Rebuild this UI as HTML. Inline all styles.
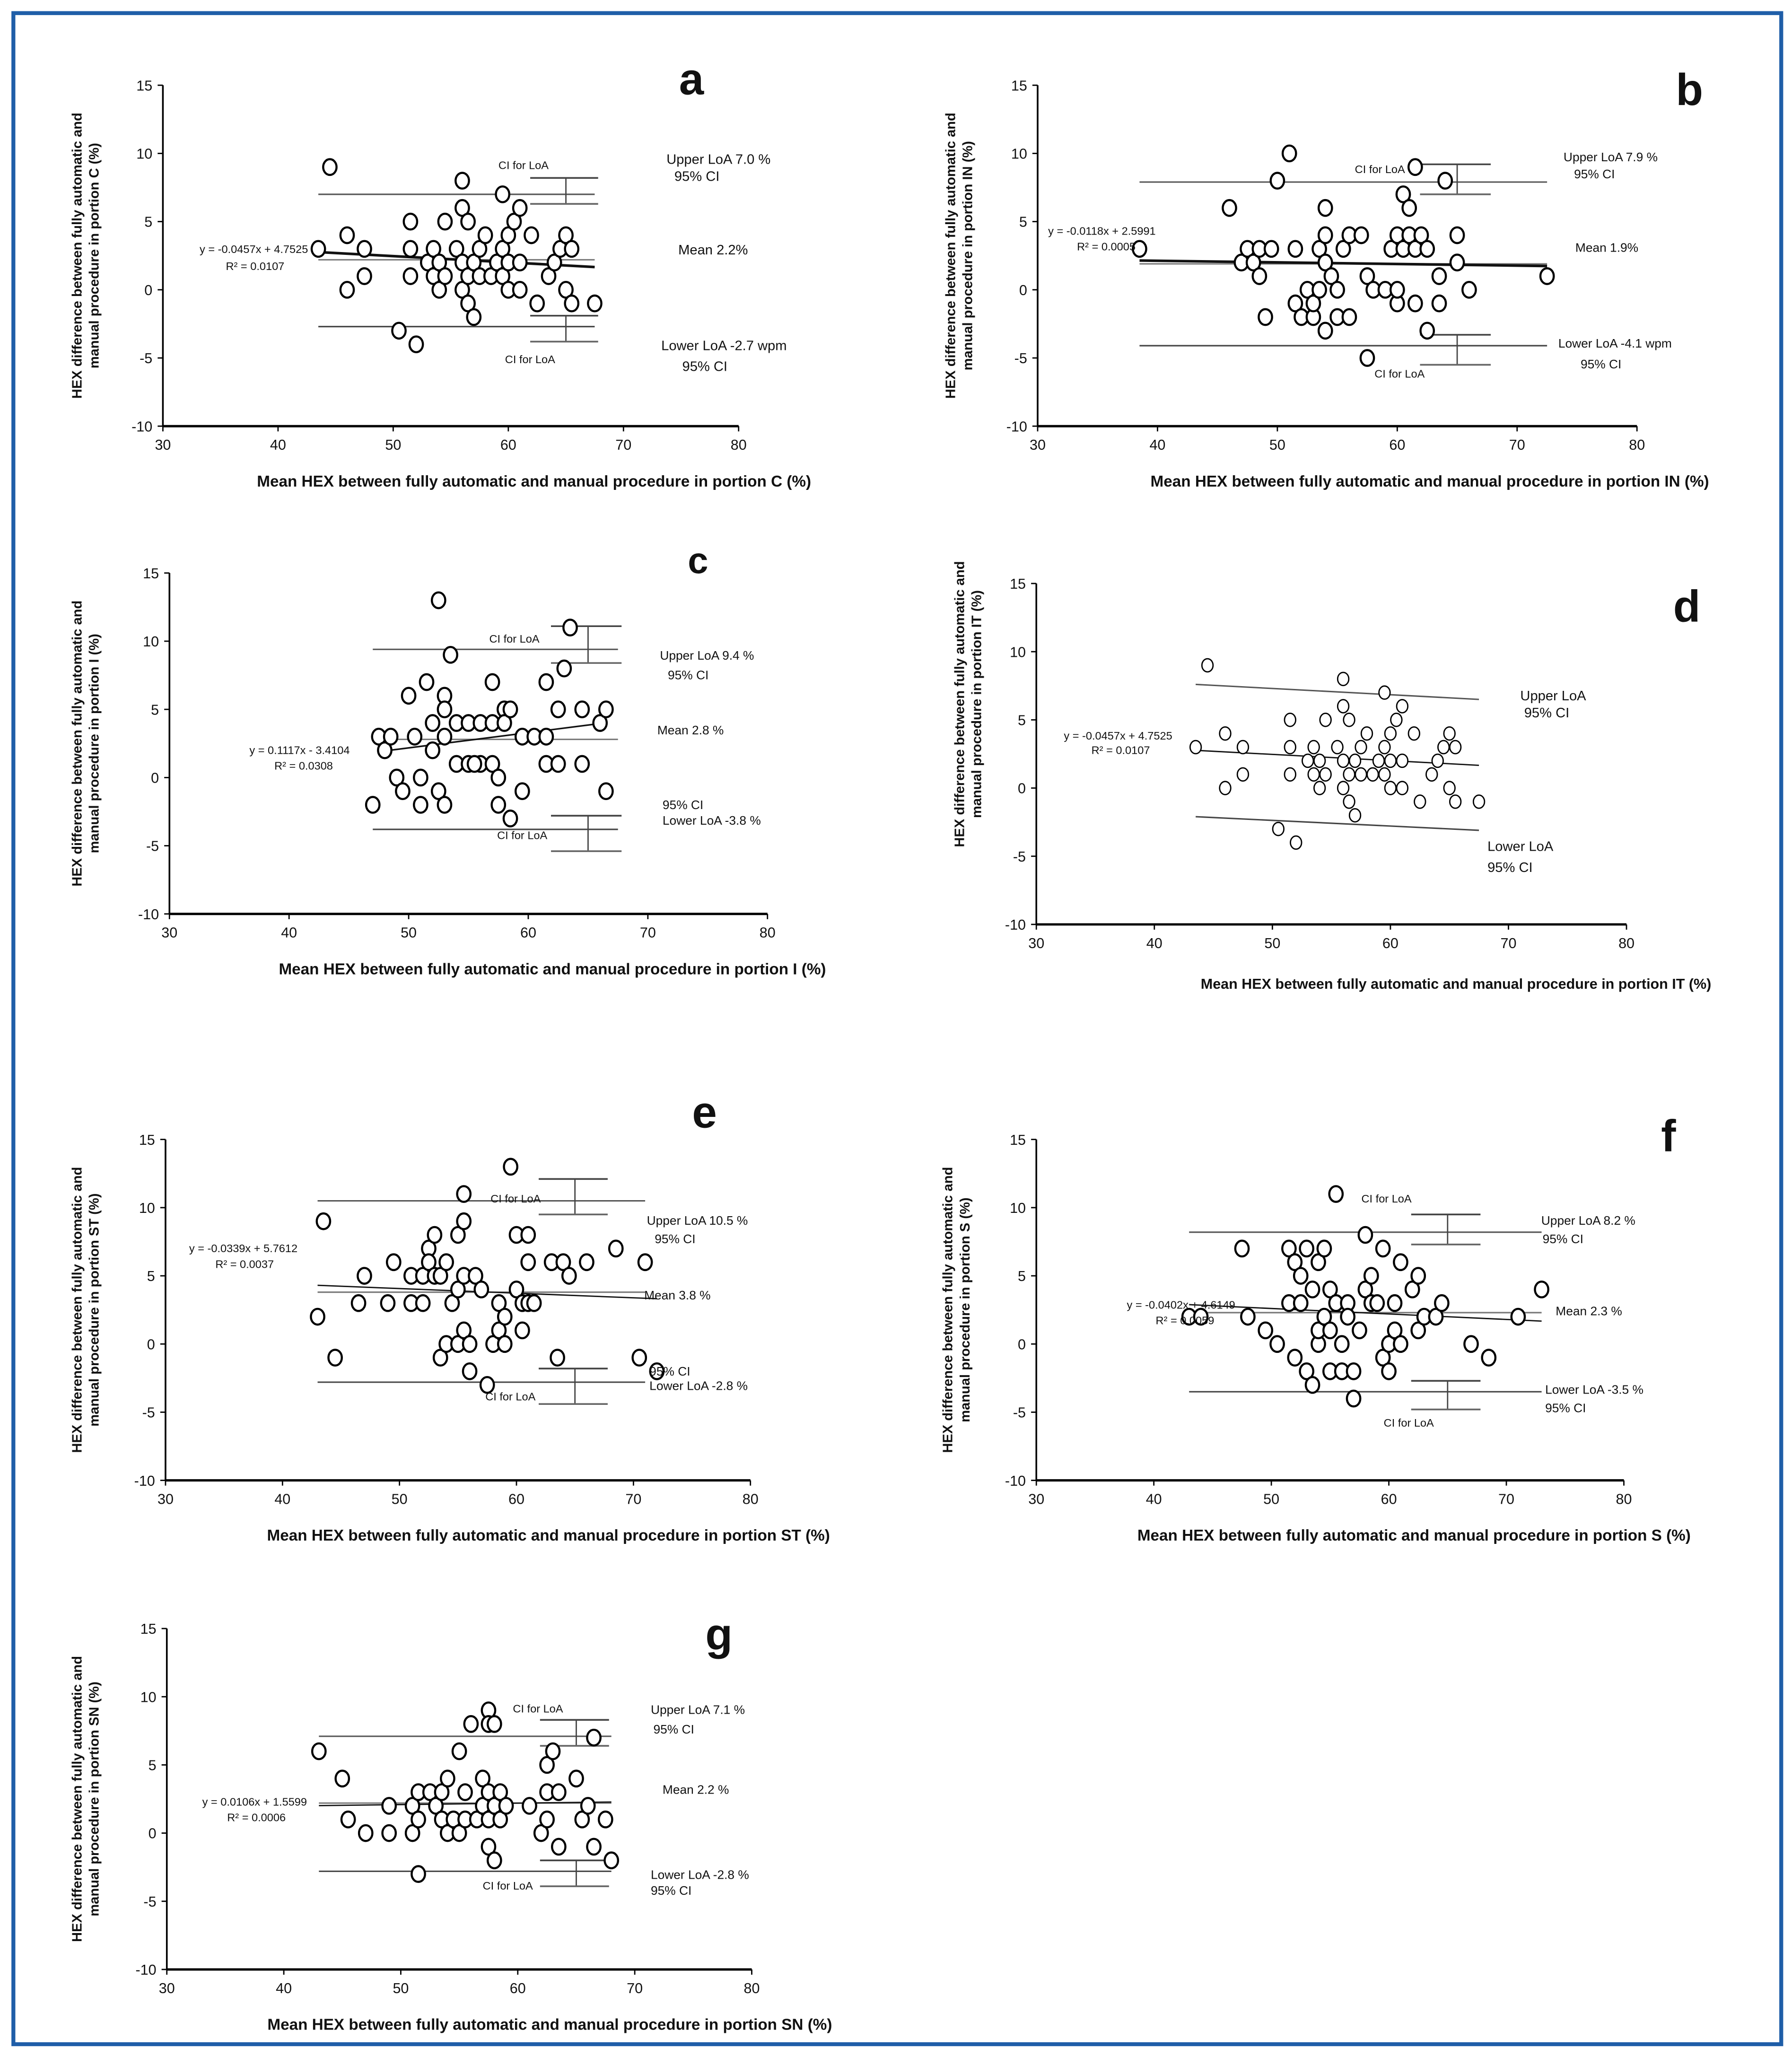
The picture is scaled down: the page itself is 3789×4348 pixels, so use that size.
<!DOCTYPE html>
<html><head><meta charset="utf-8">
<style>
html,body{margin:0;padding:0;background:#fff;}
svg{display:block;}
text{font-family:"Liberation Sans Narrow","Liberation Sans",sans-serif;fill:#111;}
</style></head>
<body>
<svg id="fig" width="3789" height="4348" viewBox="0 0 1366 1568" xmlns="http://www.w3.org/2000/svg">
<rect x="10" y="10" width="1348" height="1549" fill="#fff" stroke="#1f5ea8" stroke-width="3"/>
</svg>
<script>
const xTicks=[30,40,50,60,70,80];
const yTicks=[15,10,5,0,-5,-10];
const aX=[44.5,43.5,46,46,47.5,47.5,50.5,52,51.5,51.5,51.5,53,53.5,53.5,54,54,54.5,54.5,55.5,56,56,56,56,56.5,56.5,56.5,57,57,57.5,57.5,58,58.5,59,59.5,59.5,59.5,60,60,60,60.5,61,61,61,62,62.5,63.5,64,64.5,65,65,65.5,65.5,67.5];
const aY=[9,3,4,0,3,1,-3,-4,5,3,1,2,3,1,2,0,5,1,3,8,6,2,0,5,1,-1,2,-2,3,1,4,1,2,7,3,1,4,2,0,5,6,2,0,4,-1,1,2,3,4,0,3,-1,-1];
const bX=[38.5,46,47,47.5,48,48.5,48.5,49,49.5,50,51,51.5,51.5,52,52.5,53,53,53.5,53.5,54,54,54,54,54.5,55,55,55.5,56,56,57,57.5,57.5,58,59,59.5,60,60,60.5,60.5,61,61,61.5,61.5,61.5,62,62.5,62.5,63.5,63.5,64,65,65,66,72.5,60];
const bY=[3,6,2,3,2,3,1,-2,3,8,10,3,-1,-2,0,-2,-1,3,0,6,4,2,-3,1,0,-2,3,4,-2,4,1,-5,0,0,3,4,-1,7,3,6,4,9,3,-1,4,3,-3,1,-1,8,4,2,0,1,0];
const cX=[47,47.5,48,48.5,49,49.5,50,50.5,51,51,51.5,52,52,52.5,52.5,53,53,53,53.5,54,54,55,55,56,56,57,57,57,57.5,57.5,58,58,58.5,58.5,59.5,59.5,60.5,61.5,61.5,61.5,62.5,62.5,63,63.5,64.5,64.5,66,66.5,66.5,55.5,53];
const cY=[-2,3,2,3,0,-1,6,3,-2,0,7,4,2,13,-1,6,5,-2,9,4,1,4,1,4,1,7,4,1,0,-2,5,4,-3,5,3,-1,3,3,7,1,5,1,8,11,5,1,4,5,-1,1,3];
const eX=[43,43.5,44.5,46.5,47,49,49.5,51,51,52,52,52.5,52.5,53,53,53.5,53.5,54,54,54.5,55,55,55,55.5,55.5,55.5,55.5,56,56,56.5,57,57.5,58,58.5,58.5,59,59,59.5,60,60,60.5,60.5,61,61,61,61.5,63,63.5,64,64.5,66,68.5,70.5,71,72];
const eY=[2,9,-1,3,5,3,6,5,3,3,5,7,6,8,5,5,-1,6,0,3,8,4,0,11,9,5,1,0,-2,5,4,-3,0,1,3,0,2,13,4,8,3,1,3,6,8,3,6,-1,6,5,6,7,-1,6,-2];
const fX=[43,44,47.5,48,49.5,50.5,51.5,51.5,52,52,52.5,52.5,53,53,53.5,53.5,54,54,54,54.5,54.5,55,55,55,55.5,55.5,56,56,56.5,56.5,57,57,57.5,58,58,58.5,58.5,59,59.5,59.5,60,60,60.5,60.5,61,61,62,62.5,62.5,63,64,64.5,67,68.5,71,73];
const fY=[2,2,7,2,1,0,7,3,6,-1,5,3,-2,7,-3,4,6,0,1,7,2,4,-2,1,11,3,0,-2,3,2,-2,-4,1,8,4,5,3,3,7,-1,-2,0,3,1,6,0,4,5,1,2,2,3,0,-1,2,4];
const gX=[43,45,45.5,47,49,49,51,51,51.5,51.5,51.5,52.5,53,53.5,53.5,54,54,54.5,55,55,55.5,55.5,56,56.5,57,57,57.5,57.5,57.5,57.5,57.5,58,58,58,58.5,58.5,59,61,62,62.5,62.5,62.5,63,63.5,63.5,65,65.5,66,66.5,66.5,67.5,68];
const gY=[6,4,1,0,2,0,2,0,1,-3,3,3,2,1,3,4,0,1,0,6,3,1,8,1,2,4,9,8,3,1,-1,-2,8,2,3,1,2,2,0,1,5,3,6,3,-1,4,1,2,-1,7,1,-2];

const NS="http://www.w3.org/2000/svg";
const svg=document.getElementById('fig');
function mk(tag,attrs,parent){const e=document.createElementNS(NS,tag);for(const k in attrs)e.setAttribute(k,attrs[k]);(parent||svg).appendChild(e);return e;}
function txt(s,x,y,size,anchor,weight,parent){const t=mk('text',{x:x,y:y,'font-size':size,'text-anchor':anchor||'start','font-weight':weight||'normal'},parent);t.textContent=s;return t;}

function panel(c){
  const g=mk('g',{});
  
  
  const sx=v=>c.x0+(v-30)/50*(c.x1-c.x0);
  const sy=v=>c.yT+(15-v)/25*(c.yB-c.yT);
  const ax=mk('g',{},g);
  
  
  mk('line',{x1:c.x0,y1:c.yT,x2:c.x0,y2:c.yB,stroke:'#000','stroke-width':1.3},ax);
  mk('line',{x1:c.x0,y1:c.yB,x2:c.x1,y2:c.yB,stroke:'#000','stroke-width':1.8},ax);
  yTicks.forEach(v=>{mk('line',{x1:c.x0-4,y1:sy(v),x2:c.x0,y2:sy(v),stroke:'#000'},ax);
    const t=txt(String(v),c.x0-8,sy(v)+4,11,'end','normal',ax);
    
    });
  xTicks.forEach(v=>{mk('line',{x1:sx(v),y1:c.yB,x2:sx(v),y2:c.yB+4,stroke:'#000'},ax);
    const t=txt(String(v),sx(v),c.yB+18,11,'middle','normal',ax);
    
    });
  const xt=txt(c.xt,c.xtx,c.xty,c.xts||12,'middle','bold',g);
  
  
  const yt=mk('text',{transform:'translate('+c.ytx+','+c.yty+') rotate(-90)','font-size':10.5,'font-weight':'bold','text-anchor':'middle'},g);
  
  
  const t1=mk('tspan',{x:0,y:0},yt);t1.textContent='HEX difference between fully automatic and';
  const t2=mk('tspan',{x:0,y:13},yt);t2.textContent=c.yt2;
  // lines
  const xa=c.lx[0],xb=c.lx[1];
  const lin=(y1,y2,nm,col,w)=>{const l=mk('line',{x1:sx(xa),y1:sy(y1),x2:sx(xb),y2:sy(y2),stroke:col,'stroke-width':w},g);};
  if(c.up.length){lin(c.up[0],c.up[1],'upper-loa-line','#555',1.1);lin(c.lo[0],c.lo[1],'lower-loa-line','#444',1.1);}
  if(c.mean!==null)lin(c.mean,c.mean,'mean-line','#777',1.1);
  const rl=mk('line',{x1:sx(c.rx[0]),y1:sy(c.m*c.rx[0]+c.b),x2:sx(c.rx[1]),y2:sy(c.m*c.rx[1]+c.b),stroke:'#111','stroke-width':c.rw||2},g);
  
  
  if(c.ci){c.ci.forEach((p,i)=>{const cg=mk('g',{},g);
    
    
    mk('line',{x1:sx(65),y1:sy(p[0]),x2:sx(65),y2:sy(p[1]),stroke:'#444'},cg);
    mk('line',{x1:sx(61.9),y1:sy(p[0]),x2:sx(67.8),y2:sy(p[0]),stroke:'#444','stroke-width':1.3},cg);
    mk('line',{x1:sx(61.9),y1:sy(p[1]),x2:sx(67.8),y2:sy(p[1]),stroke:'#666','stroke-width':1.3},cg);});}
  c.X.forEach((v,i)=>{const p=mk('ellipse',{cx:sx(v),cy:sy(c.Y[i]),rx:c.r*0.85,ry:c.r,fill:'#fff',stroke:'#000','stroke-width':c.sw||1.6},g);
    
    });
  c.ann.forEach(a=>{const t=txt(a[0],a[1],a[2],a[3],a[4]||'start',a[5]||'normal',g);
    
    });
  const L=txt(c.id,c.L[0],c.L[1],c.L[2],'middle','bold',g);
  
  
}
const E=8.5;
panel({id:'a',x0:124,x1:563,yT:65,yB:325,X:aX,Y:aY,r:6,lx:[43.5,67.5],up:[7.0,7.0],lo:[-2.7,-2.7],mean:2.2,m:-0.0457,b:4.7525,rx:[43.5,67.5],ci:[[8.2,6.3],[-1.9,-3.8]],
 xt:'Mean HEX between fully automatic and manual procedure in portion C  (%)',xtx:407,xty:371,ytx:62,yty:195,yt2:'manual procedure in portion C  (%)',L:[527,72,34],
 ann:[['CI for LoA',399,129,E,'middle'],['Upper LoA 7.0 %',508,125,10.5],['95% CI',514,138,10.5],['Mean 2.2%',517,194,10.5],['Lower LoA -2.7 wpm',504,267,10.5],['95% CI',520,283,10.5],['CI for LoA',404,277,E,'middle'],['y = -0.0457x + 4.7525',152,193,E],['R² = 0.0107',172,206,E]]});
panel({id:'b',x0:791,x1:1248,yT:65,yB:325,X:bX,Y:bY,r:6,lx:[38.5,72.5],up:[7.9,7.9],lo:[-4.1,-4.1],mean:1.9,m:-0.0118,b:2.5991,rx:[38.5,72.5],ci:[[9.2,7.0],[-3.3,-5.5]],
 xt:'Mean HEX between fully automatic and manual procedure in portion IN  (%)',xtx:1090,xty:371,ytx:728,yty:195,yt2:'manual procedure in portion IN  (%)',L:[1288,80,34],
 ann:[['CI for LoA',1052,132,E,'middle'],['Upper LoA 7.9 %',1192,123,9.5],['95% CI',1200,136,9.5],['Mean 1.9%',1201,192,9.5],['Lower LoA -4.1 wpm',1188,265,9.5],['95% CI',1205,281,9.5],['CI for LoA',1067,288,E,'middle'],['y = -0.0118x + 2.5991',799,179,E],['R² = 0.0005',821,191,E]]});
panel({id:'c',x0:129,x1:585,yT:437,yB:697,X:cX,Y:cY,r:6,lx:[47,67.5],up:[9.4,9.4],lo:[-3.8,-3.8],mean:2.8,m:0.1117,b:-3.4104,rx:[47.5,66.5],rw:1.2,ci:[[11.1,8.4],[-2.8,-5.4]],
 xt:'Mean HEX between fully automatic and manual procedure in portion I (%)',xtx:421,xty:743,ytx:62,yty:567,yt2:'manual procedure in portion I  (%)',L:[532,437,28],
 ann:[['CI for LoA',392,490,E,'middle'],['Upper LoA 9.4 %',503,503,9.5],['95% CI',509,518,9.5],['Mean 2.8 %',501,560,9.5],['95% CI',505,617,9.5],['Lower LoA -3.8 %',505,629,9.5],['CI for LoA',398,640,E,'middle'],['y = 0.1117x - 3.4104',190,575,E],['R² = 0.0308',209,587,E]]});
panel({id:'d',x0:790,x1:1240,yT:445,yB:705,X:aX,Y:aY,r:5,sw:1,lx:[43.5,67.5],up:[7.6,6.5],lo:[-2.1,-3.1],mean:null,m:-0.0457,b:4.7525,rx:[43.5,67.5],rw:1,ci:null,
 xt:'Mean HEX between fully automatic and manual procedure in portion IT (%)',xtx:1110,xty:754,xts:11,ytx:735,yty:537,yt2:'manual procedure in portion IT (%)',L:[1286,474,34],
 ann:[['Upper LoA',1159,534,10.5],['95% CI',1162,547,10.5],['Lower LoA',1134,649,10.5],['95% CI',1134,665,10.5],['y = -0.0457x + 4.7525',811,564,E],['R² = 0.0107',832,575,E]]});
panel({id:'e',x0:126,x1:572,yT:869,yB:1129,X:eX,Y:eY,r:6,lx:[43,71],up:[10.5,10.5],lo:[-2.8,-2.8],mean:3.8,m:-0.0339,b:5.7612,rx:[43,72],rw:1,ci:[[12.1,9.5],[-1.8,-4.4]],
 xt:'Mean HEX between fully automatic and manual procedure in portion ST (%)',xtx:418,xty:1175,ytx:62,yty:999,yt2:'manual procedure in portion ST  (%)',L:[537,860,34],
 ann:[['CI for LoA',393,917,E,'middle'],['Upper LoA 10.5 %',493,934,9.5],['95% CI',499,948,9.5],['Mean 3.8  %',491,991,9.5],['95% CI',495,1049,9.5],['Lower LoA -2.8 %',495,1060,9.5],['CI for LoA',389,1068,E,'middle'],['y = -0.0339x + 5.7612',144,955,E],['R² = 0.0037',164,967,E]]});
panel({id:'f',x0:790,x1:1238,yT:869,yB:1129,X:fX,Y:fY,r:6,lx:[43,73],up:[8.2,8.2],lo:[-3.5,-3.5],mean:2.3,m:-0.0402,b:4.6149,rx:[43,73],rw:1,ci:[[9.5,7.3],[-2.7,-4.8]],
 xt:'Mean HEX between fully automatic and manual procedure in portion S (%)',xtx:1078,xty:1175,ytx:726,yty:999,yt2:'manual procedure in portion S  (%)',L:[1272,878,34],
 ann:[['CI for LoA',1057,917,E,'middle'],['Upper LoA 8.2 %',1175,934,9.5],['95% CI',1176,948,9.5],['Mean 2.3  %',1186,1003,9.5],['Lower LoA -3.5 %',1178,1063,9.5],['95% CI',1178,1077,9.5],['CI for LoA',1074,1088,E,'middle'],['y = -0.0402x + 4.6149',859,998,E],['R² = 0.0059',881,1010,E]]});
panel({id:'g',x0:127,x1:573,yT:1242,yB:1502,X:gX,Y:gY,r:6,lx:[43,68],up:[7.1,7.1],lo:[-2.8,-2.8],mean:2.2,m:0.0106,b:1.5599,rx:[43,68],rw:1,ci:[[8.3,6.4],[-2.0,-3.9]],
 xt:'Mean HEX between fully automatic and manual procedure in portion SN (%)',xtx:419,xty:1548,ytx:62,yty:1372,yt2:'manual procedure in portion SN  (%)',L:[548,1258,34],
 ann:[['CI for LoA',410,1306,E,'middle'],['Upper LoA 7.1 %',496,1307,9.5],['95% CI',498,1322,9.5],['Mean 2.2 %',505,1368,9.5],['Lower LoA -2.8 %',496,1433,9.5],['95% CI',496,1445,9.5],['CI for LoA',387,1441,E,'middle'],['y = 0.0106x + 1.5599',154,1377,E],['R² = 0.0006',173,1389,E]]});
</script>
</body></html>
